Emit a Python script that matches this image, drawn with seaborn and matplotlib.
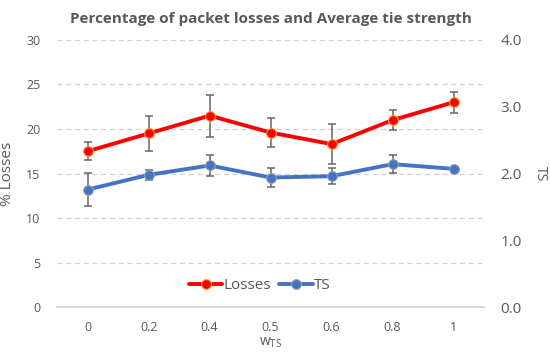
import numpy as np
import pandas as pd
import seaborn as sns
import matplotlib
matplotlib.use("Agg")
import matplotlib.pyplot as plt

# data
w_labels = ["0", "0.2", "0.4", "0.5", "0.6", "0.8", "1"]
losses = [17.5, 19.5, 21.5, 19.6, 18.3, 21.0, 23.0]
losses_err = [1.0, 2.0, 2.35, 1.6, 2.25, 1.15, 1.15]
ts = [1.76, 1.98, 2.12, 1.94, 1.96, 2.14, 2.07]
ts_err = [0.25, 0.08, 0.15, 0.14, 0.12, 0.13, 0.0]

sns.set_style("white")
plt.rcParams['font.family'] = ['Open Sans', 'DejaVu Sans']

df = pd.DataFrame({"pos": np.arange(len(w_labels)), "Losses": losses, "TS": ts})

grey = "#595959"
fig = plt.figure(figsize=(5.5, 3.63), dpi=100)
ax = fig.add_axes([0.104, 0.154, 0.776, 0.736])
ax2 = ax.twinx()

# gridlines
for v in range(5, 31, 5):
    ax.axhline(v, color="#d0d0d0", lw=0.9, ls=(0, (4, 3)), zorder=0)

ax.errorbar(df["pos"], df["Losses"], yerr=losses_err, fmt="none",
            ecolor="#666666", elinewidth=1.1, capsize=3, capthick=1.1, zorder=3)
sns.lineplot(data=df, x="pos", y="Losses", ax=ax, color="#ff0000", lw=2.8,
             marker="o", markersize=7, markerfacecolor="#ff0000",
             markeredgecolor="#f0a030", markeredgewidth=0.8, zorder=4, label="Losses")

ax2.errorbar(df["pos"], df["TS"], yerr=ts_err, fmt="none",
             ecolor="#666666", elinewidth=1.1, capsize=3, capthick=1.1, zorder=3)
sns.lineplot(data=df, x="pos", y="TS", ax=ax2, color="#4472c4", lw=2.8,
             marker="o", markersize=7, markerfacecolor="#4472c4",
             markeredgecolor="#9aa0a8", markeredgewidth=0.8, zorder=4, label="TS")

ax.set_xlim(-0.5, 6.5)
ax.set_ylim(0, 30)
ax2.set_ylim(0, 4)
ax.set_xticks(df["pos"])
ax.set_xticklabels(w_labels)
ax.set_yticks(range(0, 31, 5))
ax2.set_yticks([0, 1, 2, 3, 4])
ax2.set_yticklabels([f"{v:.1f}" for v in [0, 1, 2, 3, 4]])

ax.tick_params(axis="x", length=0, labelsize=9, colors=grey, pad=10)
ax.tick_params(axis="y", length=0, labelsize=9, colors=grey, pad=12)
ax2.tick_params(axis="y", length=0, labelsize=11, colors=grey, pad=12)

for a in (ax, ax2):
    for s in a.spines.values():
        s.set_visible(False)
ax.spines["bottom"].set_visible(True)
ax.spines["bottom"].set_color("#d0d0d0")
ax.spines["bottom"].set_linewidth(1.2)

ax.set_xlabel(r"w$_\mathregular{TS}$", fontsize=10, color=grey, labelpad=1)
ax.set_ylabel("% Losses", fontsize=11, color=grey)
ax.yaxis.set_label_coords(-0.098, 0.5)
ax2.set_ylabel("TS", fontsize=10, color=grey, rotation=270, va="center")
ax2.yaxis.set_label_coords(1.131, 0.5)

ax.set_title("Percentage of packet losses and Average tie strength",
             fontsize=11, fontweight="bold", color=grey, pad=12)

# combined legend
h1, l1 = ax.get_legend_handles_labels()
h2, l2 = ax2.get_legend_handles_labels()
if ax2.get_legend():
    ax2.get_legend().remove()
if ax.get_legend():
    ax.get_legend().remove()
ax2.legend(h1 + h2, l1 + l2, loc="lower center", bbox_to_anchor=(0.475, 0.0),
           ncol=2, frameon=False, fontsize=11, labelcolor=grey,
           handlelength=2.2, handletextpad=0.1, columnspacing=0.5)

fig.savefig("out.png", dpi=100)
